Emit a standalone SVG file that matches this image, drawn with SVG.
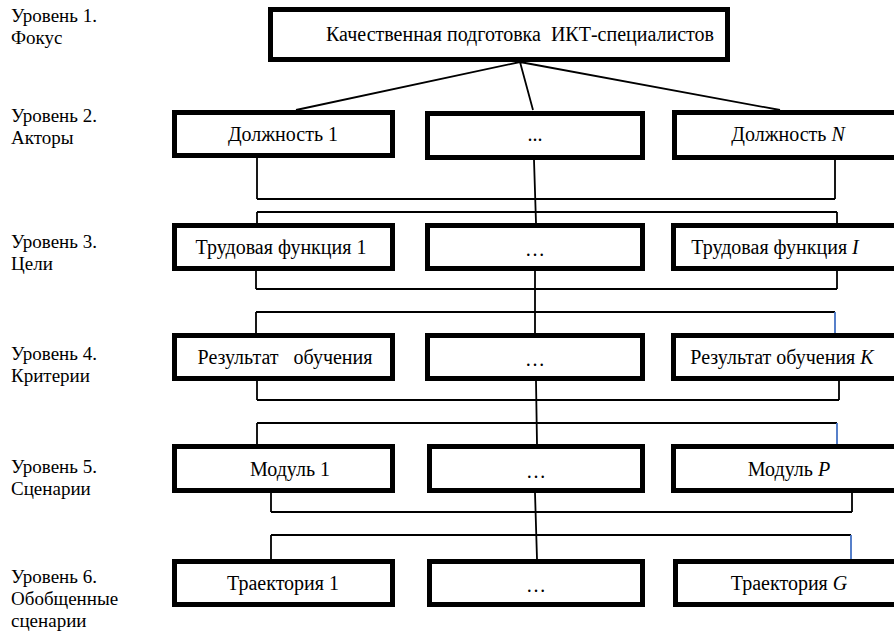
<svg xmlns="http://www.w3.org/2000/svg" width="894" height="635" viewBox="0 0 894 635">
<style>
text{font-family:"Liberation Serif","Times New Roman",serif;font-size:20px;fill:#000;white-space:pre}
.lb{font-size:19px}
.box{fill:#fff;stroke:#000;stroke-width:5}
.c{text-anchor:middle}
.ln{fill:none;stroke:#000;stroke-width:1.8}
.bl{fill:none;stroke:#4472c4;stroke-width:1.8}
.it{font-style:italic}
</style>
<g id="labels">
<text class="lb" x="11" y="22">Уровень 1.</text><text class="lb" x="11" y="44">Фокус</text>
<text class="lb" x="11" y="122">Уровень 2.</text><text class="lb" x="11" y="144">Акторы</text>
<text class="lb" x="11" y="248">Уровень 3.</text><text class="lb" x="11" y="270">Цели</text>
<text class="lb" x="11" y="360">Уровень 4.</text><text class="lb" x="11" y="382">Критерии</text>
<text class="lb" x="11" y="473">Уровень 5.</text><text class="lb" x="11" y="495">Сценарии</text>
<text class="lb" x="11" y="583">Уровень 6.</text><text class="lb" x="11" y="605">Обобщенные</text><text class="lb" x="11" y="627">сценарии</text>
</g>
<g id="connectors">
<path class="ln" d="M520 62L296 110M520 62L533 110M520 62L780 110"/>
<path class="ln" d="M257 158V199M534 160L536 223M835 149V199M257 199H835M257 212H837M257 212V223M837 212V223"/>
<path class="ln" d="M256 271V289M535 271V333M837 271V289M256 289H837M256 312H835M256 312V333"/>
<path class="bl" d="M835 312V334"/>
<path class="ln" d="M257 381V400M536 381L537 444M839 381V400M257 400H839M257 423H837M257 423V444"/>
<path class="bl" d="M837 423V445"/>
<path class="ln" d="M271 493V512M535 493L537 559M852 493V512M271 512H852M271 535H851M271 535V559"/>
<path class="bl" d="M851 535V560"/>
</g>
<g id="n0"><rect class="box" x="270.5" y="9.5" width="457" height="50"/><text class="c" x="520" y="41">Качественная подготовка  ИКТ-специалистов</text></g>
<g id="n21"><rect class="box" x="174.5" y="112.5" width="218" height="43"/><text class="c" x="283" y="141">Должность 1</text></g>
<g id="n22"><rect class="box" x="427.5" y="113.5" width="215" height="44"/><text class="c" x="535" y="141">...</text></g>
<g id="n23"><rect class="box" x="674.5" y="112.5" width="225" height="45"/><text class="c" x="788" y="141">Должность <tspan class="it">N</tspan></text></g>
<g id="n31"><rect class="box" x="174.5" y="225.5" width="218" height="43"/><text class="c" x="281" y="254">Трудовая функция 1</text></g>
<g id="n32"><rect class="box" x="427.5" y="225.5" width="215" height="43"/><text class="c" x="535" y="256">…</text></g>
<g id="n33"><rect class="box" x="673.5" y="225.5" width="226" height="43"/><text class="c" x="775" y="254">Трудовая функция <tspan class="it">I</tspan></text></g>
<g id="n41"><rect class="box" x="174.5" y="335.5" width="218" height="43"/><text class="c" x="285" y="364">Результат   обучения</text></g>
<g id="n42"><rect class="box" x="427.5" y="335.5" width="215" height="43"/><text class="c" x="535" y="366">…</text></g>
<g id="n43"><rect class="box" x="673.5" y="335.5" width="226" height="43"/><text class="c" x="782" y="364">Результат обучения <tspan class="it">K</tspan></text></g>
<g id="n51"><rect class="box" x="174.5" y="446.5" width="218" height="44"/><text class="c" x="290" y="476">Модуль 1</text></g>
<g id="n52"><rect class="box" x="429.5" y="446.5" width="213" height="44"/><text class="c" x="536" y="478">…</text></g>
<g id="n53"><rect class="box" x="673.5" y="446.5" width="226" height="44"/><text class="c" x="789" y="476">Модуль <tspan class="it">P</tspan></text></g>
<g id="n61"><rect class="box" x="174.5" y="561.5" width="218" height="43"/><text class="c" x="283" y="590">Траектория 1</text></g>
<g id="n62"><rect class="box" x="429.5" y="561.5" width="213" height="43"/><text class="c" x="536" y="592">…</text></g>
<g id="n63"><rect class="box" x="675.5" y="561.5" width="224" height="43"/><text class="c" x="789" y="590">Траектория <tspan class="it">G</tspan></text></g>
</svg>
